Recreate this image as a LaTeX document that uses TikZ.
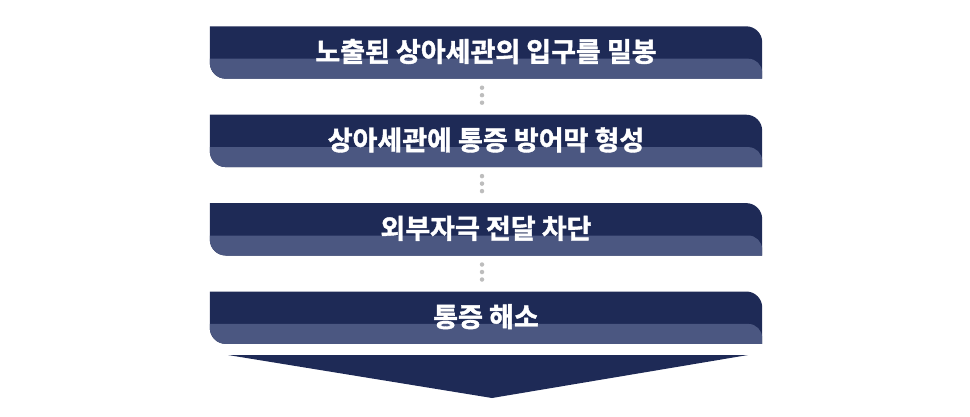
\documentclass[tikz,border=0pt]{standalone}
\usepackage{fontspec}
\newfontfamily\krfont[FakeBold=1.5]{Noto Sans CJK KR Bold}
\usetikzlibrary{positioning}
\definecolor{navy}{HTML}{1E2A56}
\definecolor{band}{HTML}{4B5781}
\definecolor{dotgray}{HTML}{BDBDBD}
\tikzset{
  barbox/.style = {minimum width=552pt, minimum height=52pt, inner sep=0pt, font=\krfont\fontsize{27pt}{29pt}\selectfont, text=white},
  dotline/.style = {dotgray, line width=4.5pt, line cap=round, dash pattern=on 0pt off 7.5pt},
}
\newcommand{\drawbar}[1]{%
  \fill[navy] (#1.north west) -- ([xshift=-16pt]#1.north east) arc[start angle=90, end angle=0, radius=16pt]
    -- (#1.south east) -- ([xshift=16pt]#1.south west) arc[start angle=270, end angle=180, radius=16pt] -- cycle;
  \fill[band] ([yshift=20pt]#1.south west) -- ([xshift=-14pt,yshift=20pt]#1.south east) arc[start angle=90, end angle=0, radius=14pt]
    -- ([yshift=6pt]#1.south east) -- (#1.south east) -- ([xshift=16pt]#1.south west) arc[start angle=270, end angle=180, radius=16pt] -- cycle;
}
\begin{document}
\begin{tikzpicture}[x=1pt, y=-1pt]
\useasboundingbox (0,0) rectangle (970,416);
\node[barbox] (b1) at (486,52.5) {\phantom{X}};
\node[barbox, below=36pt of b1] (b2) {\phantom{X}};
\node[barbox, below=36pt of b2] (b3) {\phantom{X}};
\node[barbox, below=36pt of b3] (b4) {\phantom{X}};
\foreach \b in {b1,b2,b3,b4} {\drawbar{\b}}
\node[barbox, yshift=1pt] at (b1) {노출된 상아세관의 입구를 밀봉};
\node[barbox, yshift=1pt] at (b2) {상아세관에 통증 방어막 형성};
\node[barbox, yshift=1pt] at (b3) {외부자극 전달 차단};
\node[barbox, yshift=1pt] at (b4) {통증 해소};
% dotted links
\draw[dotline] ([xshift=-4pt,yshift=-9pt]b1.south) -- ([xshift=-4pt,yshift=10pt]b2.north);
\draw[dotline] ([xshift=-4pt,yshift=-9pt]b2.south) -- ([xshift=-4pt,yshift=10pt]b3.north);
\draw[dotline] ([xshift=-4pt,yshift=-9pt]b3.south) -- ([xshift=-4pt,yshift=10pt]b4.north);
% arrow
\coordinate (tipl) at (228,355);
\coordinate (tipr) at (748,355);
\coordinate (tip) at (492,398);
\fill[navy] (tipl) -- (tipr) -- (tip) -- cycle;
\end{tikzpicture}
\end{document}
